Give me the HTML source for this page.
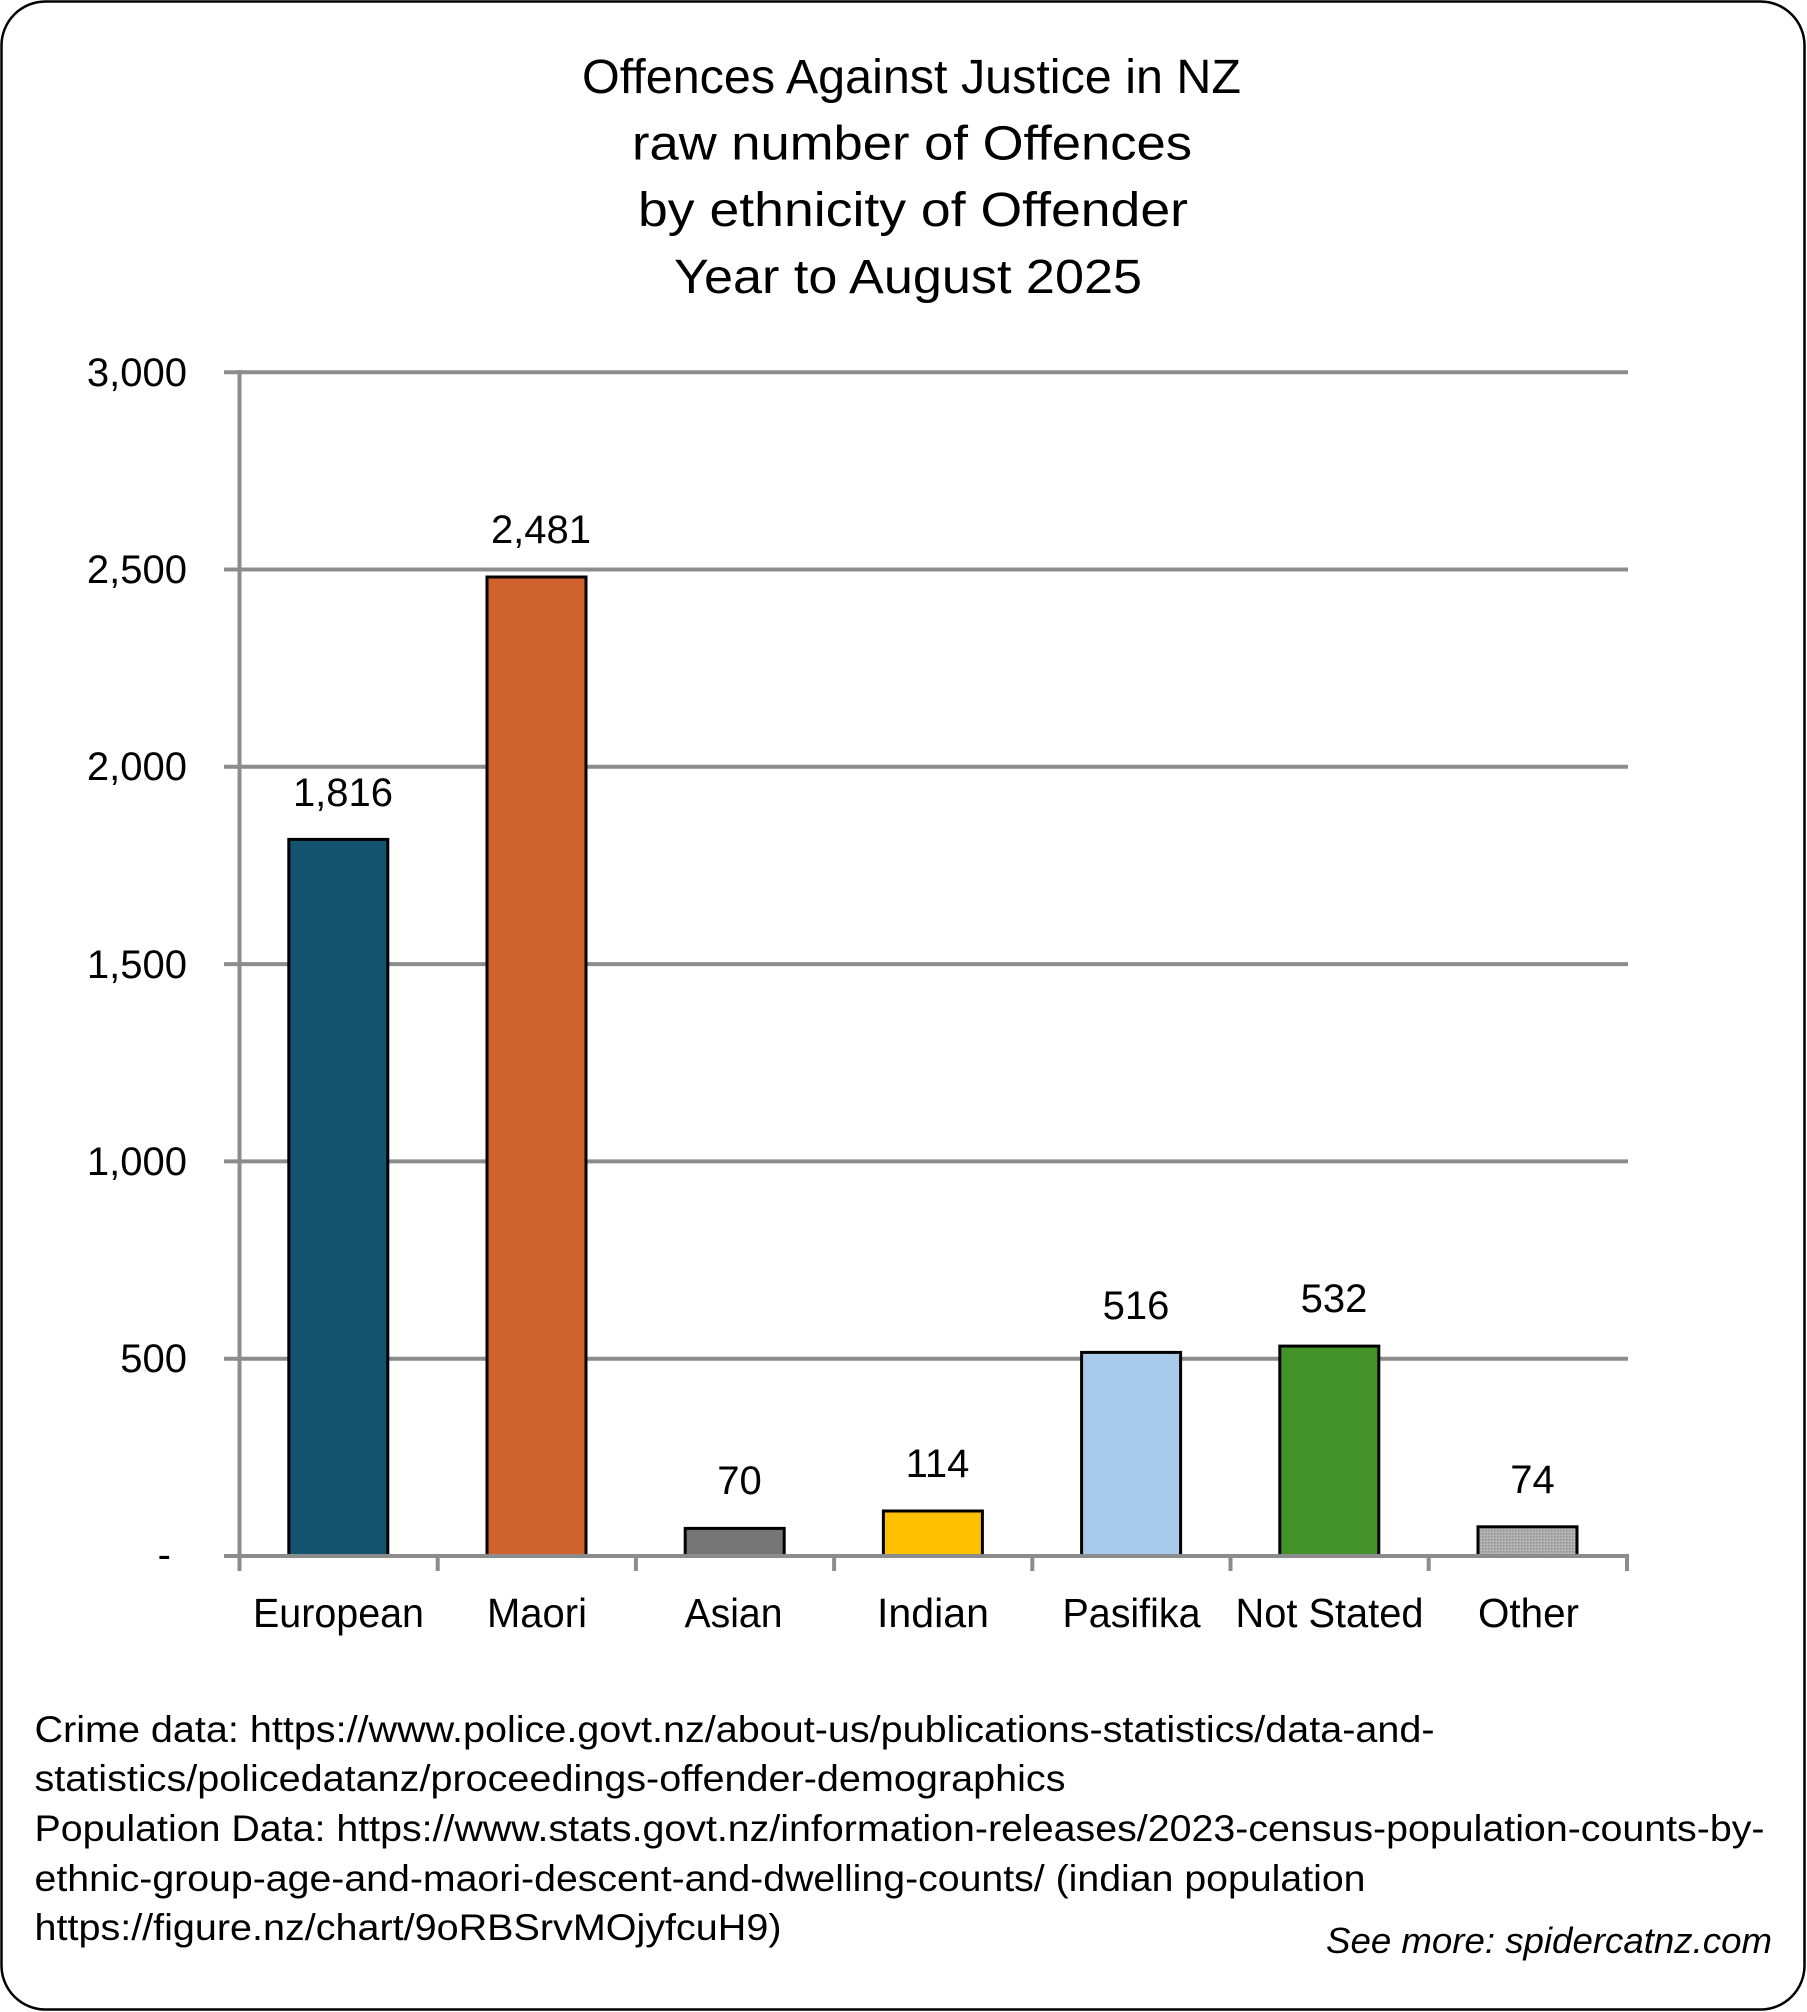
<!DOCTYPE html>
<html>
<head>
<meta charset="utf-8">
<style>
  html,body{margin:0;padding:0;background:#ffffff;}
  svg{display:block;}
  .t{font-family:"Liberation Sans",sans-serif;fill:#000;}
</style>
</head>
<body>
<svg width="1807" height="2012" viewBox="0 0 1807 2012" xmlns="http://www.w3.org/2000/svg">
  <defs>
    <pattern id="dots" width="3" height="3" patternUnits="userSpaceOnUse">
      <rect width="3" height="3" fill="#b4b4b4"/>
      <rect width="1.5" height="1.5" fill="#8e8e8e"/>
    </pattern>
  </defs>
  <rect x="0" y="0" width="1807" height="2012" fill="#ffffff"/>
  <!-- frame -->
  <rect x="1.5" y="1.5" width="1803" height="2008" rx="44" ry="44" fill="#ffffff" stroke="#000" stroke-width="2.5"/>

  <!-- title -->
  <text class="t" x="582" y="93" font-size="48.5" textLength="659" lengthAdjust="spacingAndGlyphs">Offences Against Justice in NZ</text>
  <text class="t" x="632" y="159.5" font-size="48.5" textLength="560" lengthAdjust="spacingAndGlyphs">raw number of Offences</text>
  <text class="t" x="638" y="226" font-size="48.5" textLength="550" lengthAdjust="spacingAndGlyphs">by ethnicity of Offender</text>
  <text class="t" x="674" y="293" font-size="48.5" textLength="468" lengthAdjust="spacingAndGlyphs">Year to August 2025</text>

  <!-- gridlines -->
  <g stroke="#8c8c8c" stroke-width="4">
    <line x1="224" y1="372.2" x2="1628" y2="372.2"/>
    <line x1="224" y1="569.5" x2="1628" y2="569.5"/>
    <line x1="224" y1="766.8" x2="1628" y2="766.8"/>
    <line x1="224" y1="964.1" x2="1628" y2="964.1"/>
    <line x1="224" y1="1161.4" x2="1628" y2="1161.4"/>
    <line x1="224" y1="1358.7" x2="1628" y2="1358.7"/>
  </g>

  <!-- y labels -->
  <g class="t" font-size="40" text-anchor="end">
    <text x="187" y="386">3,000</text>
    <text x="187" y="583">2,500</text>
    <text x="187" y="780">2,000</text>
    <text x="187" y="978">1,500</text>
    <text x="187" y="1175">1,000</text>
    <text x="187" y="1372">500</text>
    <text x="171" y="1568">-</text>
  </g>

  <!-- bars -->
  <g stroke="#000" stroke-width="3">
    <rect x="288.8" y="839.4" width="99" height="716.6" fill="#13536f"/>
    <rect x="487" y="577" width="99" height="979" fill="#d0632d"/>
    <rect x="685.2" y="1528.4" width="99" height="27.6" fill="#767676"/>
    <rect x="883.4" y="1511" width="99" height="45" fill="#ffc000"/>
    <rect x="1081.6" y="1352.4" width="99" height="203.6" fill="#a8caeb"/>
    <rect x="1279.8" y="1346.1" width="99" height="209.9" fill="#43932a"/>
    <rect x="1478" y="1526.8" width="99" height="29.2" fill="url(#dots)"/>
  </g>

  <!-- axes -->
  <g stroke="#8c8c8c" stroke-width="4">
    <line x1="239.5" y1="370" x2="239.5" y2="1571"/>
    <line x1="224" y1="1556" x2="1629" y2="1556"/>
    <line x1="437.7" y1="1556" x2="437.7" y2="1571"/>
    <line x1="635.9" y1="1556" x2="635.9" y2="1571"/>
    <line x1="834.1" y1="1556" x2="834.1" y2="1571"/>
    <line x1="1032.3" y1="1556" x2="1032.3" y2="1571"/>
    <line x1="1230.5" y1="1556" x2="1230.5" y2="1571"/>
    <line x1="1428.7" y1="1556" x2="1428.7" y2="1571"/>
    <line x1="1627" y1="1556" x2="1627" y2="1571"/>
  </g>

  <!-- value labels -->
  <g class="t" font-size="40" text-anchor="middle">
    <text x="343" y="806">1,816</text>
    <text x="541" y="543">2,481</text>
    <text x="739.5" y="1494">70</text>
    <text x="937.5" y="1477">114</text>
    <text x="1136" y="1319">516</text>
    <text x="1334" y="1312">532</text>
    <text x="1532.5" y="1493">74</text>
  </g>

  <!-- x labels -->
  <g class="t" font-size="40.5">
    <text x="253" y="1627" textLength="171" lengthAdjust="spacingAndGlyphs">European</text>
    <text x="487" y="1627" textLength="100" lengthAdjust="spacingAndGlyphs">Maori</text>
    <text x="684.5" y="1627" textLength="98" lengthAdjust="spacingAndGlyphs">Asian</text>
    <text x="877" y="1627" textLength="112" lengthAdjust="spacingAndGlyphs">Indian</text>
    <text x="1062.5" y="1627" textLength="138" lengthAdjust="spacingAndGlyphs">Pasifika</text>
    <text x="1235.5" y="1627" textLength="188" lengthAdjust="spacingAndGlyphs">Not Stated</text>
    <text x="1478" y="1627" textLength="101" lengthAdjust="spacingAndGlyphs">Other</text>
  </g>

  <!-- footer -->
  <g class="t" font-size="37">
    <text x="34.5" y="1742" textLength="1400" lengthAdjust="spacingAndGlyphs">Crime data: https://www.police.govt.nz/about-us/publications-statistics/data-and-</text>
    <text x="34.5" y="1791" textLength="1031" lengthAdjust="spacingAndGlyphs">statistics/policedatanz/proceedings-offender-demographics</text>
    <text x="34.5" y="1841" textLength="1730" lengthAdjust="spacingAndGlyphs">Population Data: https://www.stats.govt.nz/information-releases/2023-census-population-counts-by-</text>
    <text x="34.5" y="1891" textLength="1331" lengthAdjust="spacingAndGlyphs">ethnic-group-age-and-maori-descent-and-dwelling-counts/ (indian population</text>
    <text x="34.5" y="1940" textLength="747" lengthAdjust="spacingAndGlyphs">https://figure.nz/chart/9oRBSrvMOjyfcuH9)</text>
  </g>
  <text class="t" x="1326" y="1953" font-size="36" font-style="italic" textLength="446" lengthAdjust="spacingAndGlyphs">See more: spidercatnz.com</text>
</svg>
</body>
</html>
